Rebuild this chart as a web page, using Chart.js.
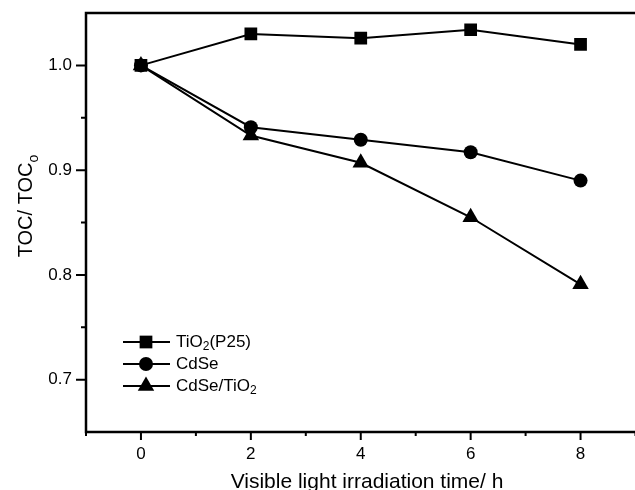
<!DOCTYPE html>
<html>
<head>
<meta charset="utf-8">
<script src="https://cdn.jsdelivr.net/npm/chart.js@4.4.0/dist/chart.umd.min.js"></script>
<style>
  html, body { margin: 0; padding: 0; background: #fff; overflow: hidden; }
  .wrap { position: relative; width: 645px; height: 490px; }
  canvas { display: block; }
</style>
</head>
<body>
<div class="wrap"><canvas id="tocChart" width="645" height="490"></canvas></div>
<script>
// irradiation time (h) and TOC/TOC0 for each catalyst
const hours = [0, 2, 4, 6, 8];
const tio2P25 = [1.000, 1.030, 1.026, 1.034, 1.020];
const cdse = [1.000, 0.941, 0.929, 0.917, 0.890];
const cdseTio2 = [1.000, 0.933, 0.907, 0.855, 0.791];

// axis ticks
const xTicks = [0, 2, 4, 6, 8];
const xMinor = [-1, 1, 3, 5, 7, 9];
const yTicks = [0.7, 0.8, 0.9, 1.0];
const yMinor = [0.75, 0.85, 0.95];

const FONT = "'Liberation Sans', Arial, Helvetica, sans-serif";

function pts(vals) {
    return hours.map((h, i) => ({ x: h, y: vals[i] }));
}

const series = [
    { label: 'TiO2(P25)', data: pts(tio2P25), pointStyle: 'rect', pointRadius: 9 },
    { label: 'CdSe', data: pts(cdse), pointStyle: 'circle', pointRadius: 7 },
    { label: 'CdSe/TiO2', data: pts(cdseTio2), pointStyle: 'triangle', pointRadius: 9.5 }
];

// little marker for the legend rows
function marker(ctx, style, r, x, y) {
    ctx.beginPath();
    if (style === 'rect') {
        const s = r * Math.SQRT1_2;
        ctx.rect(x - s, y - s, 2 * s, 2 * s);
    } else if (style === 'circle') {
        ctx.arc(x, y, r, 0, Math.PI * 2);
    } else {
        ctx.moveTo(x, y - r);
        ctx.lineTo(x + r * Math.sin(Math.PI * 2 / 3), y + r / 2);
        ctx.lineTo(x - r * Math.sin(Math.PI * 2 / 3), y + r / 2);
        ctx.closePath();
    }
    ctx.fill();
}

// text with a subscript part: [[text, isSub], ...]
function richText(ctx, parts, x, y, size) {
    let cx = x;
    parts.forEach(([t, sub]) => {
        ctx.font = (sub ? Math.round(size * 0.68) : size) + 'px ' + FONT;
        ctx.fillText(t, cx, y + (sub ? size * 0.28 : 0));
        cx += ctx.measureText(t).width;
    });
}

// strip the label overhang padding so the plot box sits where we ask
function noPad(s) {
    s.paddingTop = 0;
    s.paddingBottom = 0;
    s.paddingLeft = 0;
    s.paddingRight = 0;
}

const frameAndText = {
    id: 'frameAndText',
    afterDraw(chart) {
        const { ctx, chartArea: a, scales: { x, y } } = chart;
        const edge = chart.width;
        ctx.save();
        ctx.strokeStyle = '#000';
        ctx.fillStyle = '#000';

        // frame: left, top and bottom; the right side runs off the page
        ctx.lineWidth = 2.5;
        ctx.beginPath();
        ctx.moveTo(edge, a.top);
        ctx.lineTo(a.left, a.top);
        ctx.lineTo(a.left, a.bottom);
        ctx.lineTo(edge, a.bottom);
        ctx.stroke();

        // outward tick marks
        ctx.lineWidth = 2;
        ctx.beginPath();
        xTicks.forEach(v => { const px = x.getPixelForValue(v); ctx.moveTo(px, a.bottom); ctx.lineTo(px, a.bottom + 8); });
        xMinor.forEach(v => { const px = x.getPixelForValue(v); ctx.moveTo(px, a.bottom); ctx.lineTo(px, a.bottom + 4); });
        yTicks.forEach(v => { const py = y.getPixelForValue(v); ctx.moveTo(a.left, py); ctx.lineTo(a.left - 10, py); });
        yMinor.forEach(v => { const py = y.getPixelForValue(v); ctx.moveTo(a.left, py); ctx.lineTo(a.left - 5, py); });
        ctx.stroke();

        // axis titles
        ctx.textBaseline = 'alphabetic';
        ctx.textAlign = 'center';
        ctx.font = '21px ' + FONT;
        ctx.fillText('Visible light irradiation time/ h', 367, 488);

        ctx.save();
        ctx.translate(32, 206);
        ctx.rotate(-Math.PI / 2);
        ctx.textAlign = 'left';
        ctx.font = '20px ' + FONT;
        const w1 = ctx.measureText('TOC/ TOC').width;
        ctx.font = '14px ' + FONT;
        const w2 = ctx.measureText('o').width;
        richText(ctx, [['TOC/ TOC', false], ['o', true]], -(w1 + w2) / 2, 0, 20);
        ctx.restore();

        // legend
        const rows = [
            { y: 342, parts: [['TiO', false], ['2', true], ['(P25)', false]] },
            { y: 364, parts: [['CdSe', false]] },
            { y: 386, parts: [['CdSe/TiO', false], ['2', true]] }
        ];
        ctx.textAlign = 'left';
        ctx.textBaseline = 'middle';
        rows.forEach((row, i) => {
            const ds = series[i];
            ctx.lineWidth = 2;
            ctx.beginPath();
            ctx.moveTo(123, row.y);
            ctx.lineTo(170, row.y);
            ctx.stroke();
            marker(ctx, ds.pointStyle, ds.pointRadius, 146, row.y);
            richText(ctx, row.parts, 176, row.y, 17);
        });
        ctx.restore();
    }
};

new Chart(document.getElementById('tocChart'), {
    type: 'line',
    data: {
        datasets: series.map(s => ({
            label: s.label,
            data: s.data,
            borderColor: '#000',
            backgroundColor: '#000',
            borderWidth: 2,
            pointStyle: s.pointStyle,
            pointRadius: s.pointRadius,
            pointBackgroundColor: '#000',
            pointBorderColor: '#000',
            pointBorderWidth: 0,
            tension: 0
        }))
    },
    options: {
        responsive: false,
        animation: false,
        events: [],
        layout: { padding: { left: 0, top: 13, right: 6, bottom: 0 } },
        plugins: { legend: { display: false }, tooltip: { enabled: false } },
        scales: {
            x: {
                type: 'linear',
                min: -1,
                max: 9,
                grid: { display: false },
                border: { display: false },
                afterBuildTicks: s => { s.ticks = xTicks.map(v => ({ value: v })); },
                afterFit: s => { s.height = 58; noPad(s); },
                ticks: {
                    color: '#000',
                    padding: 4,
                    font: { family: FONT, size: 17 },
                    maxRotation: 0,
                    callback: v => String(v)
                }
            },
            y: {
                min: 0.65,
                max: 1.05,
                grid: { display: false },
                border: { display: false },
                afterBuildTicks: s => { s.ticks = yTicks.map(v => ({ value: v })); },
                afterFit: s => { s.width = 86; noPad(s); },
                ticks: {
                    color: '#000',
                    padding: 6,
                    font: { family: FONT, size: 17 },
                    callback: v => Number(v).toFixed(1)
                }
            }
        }
    },
    plugins: [frameAndText]
});
</script>
</body>
</html>
